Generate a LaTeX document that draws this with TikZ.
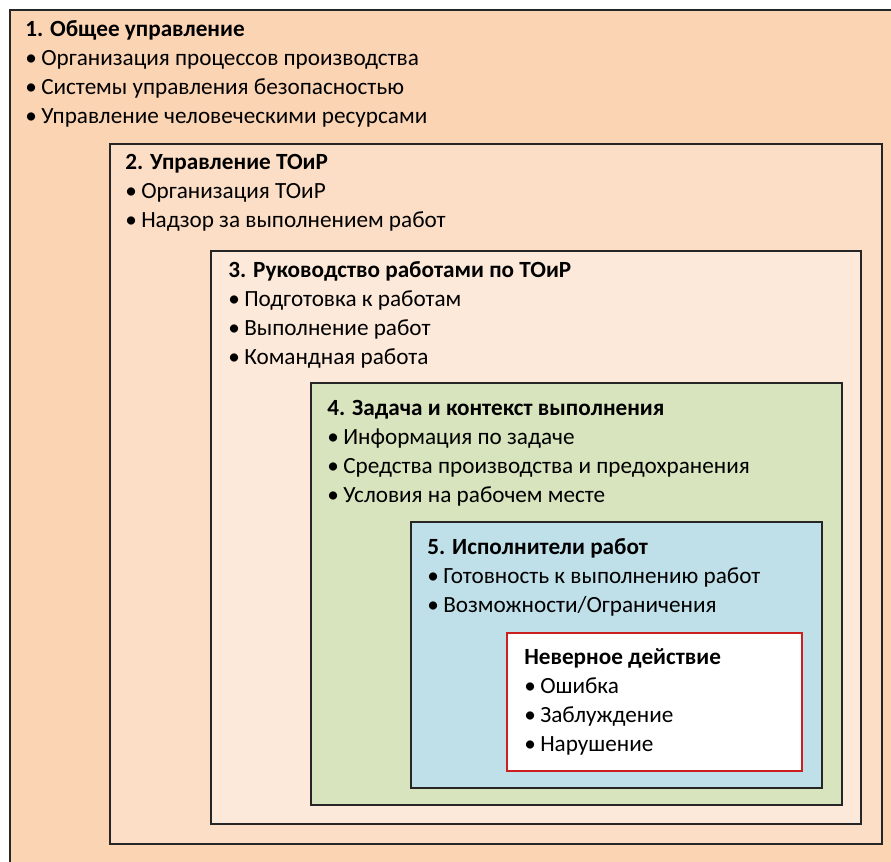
\documentclass[tikz,border=0pt]{standalone}
\usepackage{fontspec}
\setmainfont{Carlito}
\usetikzlibrary{positioning,calc,shadows}

\definecolor{peachA}{HTML}{FBD4B4}
\definecolor{peachB}{HTML}{FCDEC6}
\definecolor{peachC}{HTML}{FDE9D9}
\definecolor{oliveD}{HTML}{D7E4BD}
\definecolor{aquaE}{HTML}{BFE0E9}
\definecolor{redF}{HTML}{CC1F1F}

\newcommand{\itm}[1]{\makebox[12pt][l]{•}#1}

\begin{document}
\begin{tikzpicture}[x=0.75pt, y=-0.75pt,
  mybox/.style={draw=black!85, line width=1.2pt,
    drop shadow={shadow xshift=1pt, shadow yshift=-1pt, opacity=.35}},
  mytext/.style={anchor=north west, inner sep=0pt, align=left,
    font=\fontsize{17.4pt}{21.75pt}\selectfont}]
\useasboundingbox (0,0) rectangle (891,861);
\clip (0,0) rectangle (891,861);
\fill[white] (0,0) rectangle (891,861);

%corners of the boxes
  \coordinate (A) at (10,10);
  \coordinate (B) at (110,144);
  \coordinate (C) at (211,251);
  \coordinate (D) at (311,383);
  \coordinate (E) at (411,522);
  \coordinate (F) at (507,633);

%boxes
  \draw[mybox, fill=peachA] (A) rectangle (905,880);
  \draw[mybox, fill=peachB] (B) rectangle (882,844);
  \draw[mybox, fill=peachC] (C) rectangle (861,824);
  \draw[mybox, fill=oliveD] (D) rectangle (842,805);
  \draw[mybox, fill=aquaE] (E) rectangle (822,788);
  \draw[line width=1.2pt, draw=redF, fill=white,
    drop shadow={shadow xshift=1pt, shadow yshift=-1pt, opacity=.25}] (F) rectangle (802,771);

%texts
  \node[mytext] (tA) at ($(A)+(15,10)$) {\textbf{1. Общее управление}\\
    \itm{Организация процессов производства}\\
    \itm{Системы управления безопасностью}\\
    \itm{Управление человеческими ресурсами}};
  \node[mytext] (tB) at ($(B)+(15,10)$) {\textbf{2. Управление ТОиР}\\
    \itm{Организация ТОиР}\\
    \itm{Надзор за выполнением работ}};
  \node[mytext] (tC) at ($(C)+(17,10)$) {\textbf{3. Руководство работами по ТОиР}\\
    \itm{Подготовка к работам}\\
    \itm{Выполнение работ}\\
    \itm{Командная работа}};
  \node[mytext] (tD) at ($(D)+(16,17)$) {\textbf{4. Задача и контекст выполнения}\\
    \itm{Информация по задаче}\\
    \itm{Средства производства и предохранения}\\
    \itm{Условия на рабочем месте}};
  \node[mytext] (tE) at ($(E)+(16,16)$) {\textbf{5. Исполнители работ}\\
    \itm{Готовность к выполнению работ}\\
    \itm{Возможности/Ограничения}};
  \node[mytext] (tF) at ($(F)+(17,15)$) {\textbf{Неверное действие}\\
    \itm{Ошибка}\\
    \itm{Заблуждение}\\
    \itm{Нарушение}};
\end{tikzpicture}
\end{document}
